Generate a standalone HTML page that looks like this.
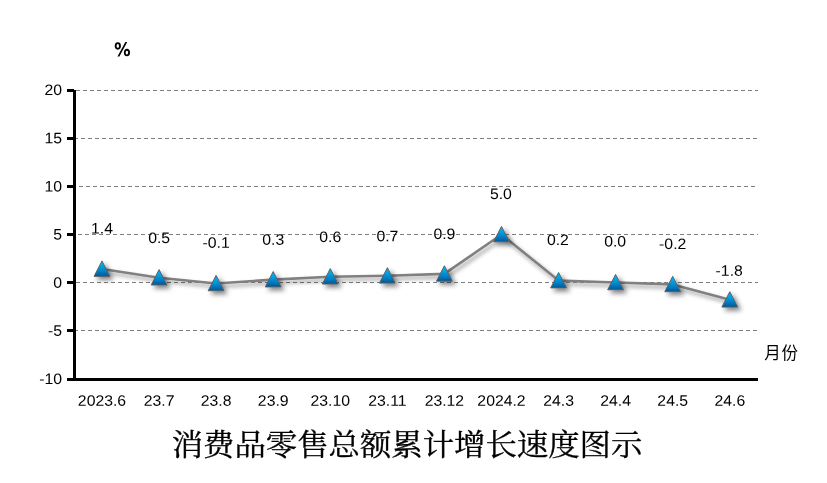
<!DOCTYPE html>
<html lang="zh-CN">
<head>
<meta charset="utf-8">
<title>消费品零售总额累计增长速度图示</title>
<style>
html,body{margin:0;padding:0;background:#fff;}
body{width:827px;height:483px;overflow:hidden;position:relative;}
svg{position:absolute;left:0;top:0;display:block;}
.num{font-family:"Liberation Sans","DejaVu Sans",sans-serif;font-size:15.8px;fill:#000;}
.pct{font-family:"NanumGothic","Liberation Sans",sans-serif;font-weight:bold;font-size:200px;fill:#000;}
.cjk{font-family:"Liberation Sans","Noto Sans CJK SC",sans-serif;font-size:16.5px;fill:#000;}
.title{font-family:"Liberation Serif","Noto Serif CJK SC",serif;font-size:31.4px;fill:#000;}
</style>
</head>
<body>
<svg width="827" height="483" viewBox="0 0 827 483">
<defs>
<linearGradient id="tri" x1="0" y1="0" x2="0" y2="1">
<stop offset="0" stop-color="#00b4f4"/>
<stop offset="0.3" stop-color="#02a6ea"/>
<stop offset="0.7" stop-color="#067cc0"/>
<stop offset="1" stop-color="#005694"/>
</linearGradient>
<filter id="sh" x="-50%" y="-50%" width="220%" height="220%">
<feGaussianBlur in="SourceAlpha" stdDeviation="2.4"/>
<feOffset dx="2.6" dy="3.0" result="b"/>
<feComponentTransfer><feFuncA type="linear" slope="0.5"/></feComponentTransfer>
<feMerge><feMergeNode/><feMergeNode in="SourceGraphic"/></feMerge>
</filter>
<filter id="shl" x="-5%" y="-30%" width="110%" height="160%">
<feGaussianBlur in="SourceAlpha" stdDeviation="2.2"/>
<feOffset dx="2.2" dy="2.8" result="b"/>
<feComponentTransfer><feFuncA type="linear" slope="0.42"/></feComponentTransfer>
<feMerge><feMergeNode/><feMergeNode in="SourceGraphic"/></feMerge>
</filter>
</defs>
<rect x="0" y="0" width="827" height="483" fill="#ffffff"/>

<g stroke="#7f7f7f" stroke-width="1" stroke-dasharray="4 3" shape-rendering="crispEdges">
<line x1="76" y1="90.5" x2="758" y2="90.5"/>
<line x1="74" y1="138.5" x2="758" y2="138.5"/>
<line x1="79" y1="186.5" x2="758" y2="186.5"/>
<line x1="78" y1="234.5" x2="758" y2="234.5"/>
<line x1="76" y1="282.5" x2="758" y2="282.5"/>
<line x1="74" y1="330.5" x2="758" y2="330.5"/>
</g>
<g fill="#000" shape-rendering="crispEdges">
<rect x="73" y="90" width="3" height="291"/>
<rect x="67" y="378" width="691" height="3"/>
<rect x="67" y="89" width="7" height="3"/>
<rect x="67" y="137" width="7" height="3"/>
<rect x="67" y="185" width="7" height="3"/>
<rect x="67" y="233" width="7" height="3"/>
<rect x="67" y="281" width="7" height="3"/>
<rect x="67" y="329" width="7" height="3"/>
</g>
<g class="num" text-anchor="end">
<text transform="translate(62.0 95.0) rotate(0.03) scale(1 0.96)">20</text>
<text transform="translate(62.0 143.2) rotate(0.03) scale(1 0.96)">15</text>
<text transform="translate(62.0 191.5) rotate(0.03) scale(1 0.96)">10</text>
<text transform="translate(62.0 239.5) rotate(0.03) scale(1 0.96)">5</text>
<text transform="translate(62.0 287.7) rotate(0.03) scale(1 0.96)">0</text>
<text transform="translate(62.0 335.8) rotate(0.03) scale(1 0.96)">-5</text>
<text transform="translate(62.0 384.0) rotate(0.03) scale(1 0.96)">-10</text>
</g>
<g class="num" text-anchor="middle">
<text transform="translate(102.0 405.7) rotate(0.03) scale(1 0.96)">2023.6</text>
<text transform="translate(159.1 405.7) rotate(0.03) scale(1 0.96)">23.7</text>
<text transform="translate(216.1 405.7) rotate(0.03) scale(1 0.96)">23.8</text>
<text transform="translate(273.2 405.7) rotate(0.03) scale(1 0.96)">23.9</text>
<text transform="translate(330.3 405.7) rotate(0.03) scale(1 0.96)">23.10</text>
<text transform="translate(387.4 405.7) rotate(0.03) scale(1 0.96)">23.11</text>
<text transform="translate(444.4 405.7) rotate(0.03) scale(1 0.96)">23.12</text>
<text transform="translate(501.5 405.7) rotate(0.03) scale(1 0.96)">2024.2</text>
<text transform="translate(558.6 405.7) rotate(0.03) scale(1 0.96)">24.3</text>
<text transform="translate(615.6 405.7) rotate(0.03) scale(1 0.96)">24.4</text>
<text transform="translate(672.7 405.7) rotate(0.03) scale(1 0.96)">24.5</text>
<text transform="translate(729.8 405.7) rotate(0.03) scale(1 0.96)">24.6</text>
</g>
<polyline points="102.0,269.06 159.1,277.70 216.1,283.46 273.2,279.62 330.3,276.74 387.4,275.78 444.4,273.86 501.5,234.50 558.6,280.58 615.6,282.50 672.7,284.42 729.8,299.78" fill="none" stroke="#808080" stroke-width="2.6" stroke-linejoin="round" stroke-linecap="round" filter="url(#shl)"/>
<g filter="url(#sh)" fill="url(#tri)" stroke="#5a6068" stroke-width="1" stroke-linejoin="miter">
<path d="M102.0 260.96 L109.9 276.36 L94.1 276.36 Z"/>
<path d="M159.1 269.60 L167.0 285.00 L151.2 285.00 Z"/>
<path d="M216.1 275.36 L224.0 290.76 L208.2 290.76 Z"/>
<path d="M273.2 271.52 L281.1 286.92 L265.3 286.92 Z"/>
<path d="M330.3 268.64 L338.2 284.04 L322.4 284.04 Z"/>
<path d="M387.4 267.68 L395.2 283.08 L379.5 283.08 Z"/>
<path d="M444.4 265.76 L452.3 281.16 L436.5 281.16 Z"/>
<path d="M501.5 226.40 L509.4 241.80 L493.6 241.80 Z"/>
<path d="M558.6 272.48 L566.5 287.88 L550.7 287.88 Z"/>
<path d="M615.6 274.40 L623.5 289.80 L607.7 289.80 Z"/>
<path d="M672.7 276.32 L680.6 291.72 L664.8 291.72 Z"/>
<path d="M729.8 291.68 L737.7 307.08 L721.9 307.08 Z"/>
</g>
<g class="num" text-anchor="middle">
<text transform="translate(102.0 233.6) rotate(0.03) scale(1 0.96)">1.4</text>
<text transform="translate(159.1 242.9) rotate(0.03) scale(1 0.96)">0.5</text>
<text transform="translate(216.1 247.8) rotate(0.03) scale(1 0.96)">-0.1</text>
<text transform="translate(273.2 244.8) rotate(0.03) scale(1 0.96)">0.3</text>
<text transform="translate(330.3 242.0) rotate(0.03) scale(1 0.96)">0.6</text>
<text transform="translate(387.4 241.2) rotate(0.03) scale(1 0.96)">0.7</text>
<text transform="translate(444.4 239.0) rotate(0.03) scale(1 0.96)">0.9</text>
<text transform="translate(500.9 199.0) rotate(0.03) scale(1 0.96)">5.0</text>
<text transform="translate(557.9 244.9) rotate(0.03) scale(1 0.96)">0.2</text>
<text transform="translate(615.1 246.5) rotate(0.03) scale(1 0.96)">0.0</text>
<text transform="translate(672.7 248.9) rotate(0.03) scale(1 0.96)">-0.2</text>
<text transform="translate(729.2 275.7) rotate(0.03) scale(1 0.96)">-1.8</text>
</g>
<text class="pct" x="0" y="0" text-anchor="middle" transform="translate(122.5 56.3) rotate(0.05) scale(0.0885 0.091)">%</text>
<text class="cjk" x="764.3" y="359.2" letter-spacing="0.8">月份</text>
<text class="title" text-anchor="middle" transform="translate(407 455.0) scale(1 0.945)" stroke="#000" stroke-width="0.35">消费品零售总额累计增长速度图示</text>
</svg>
</body>
</html>
